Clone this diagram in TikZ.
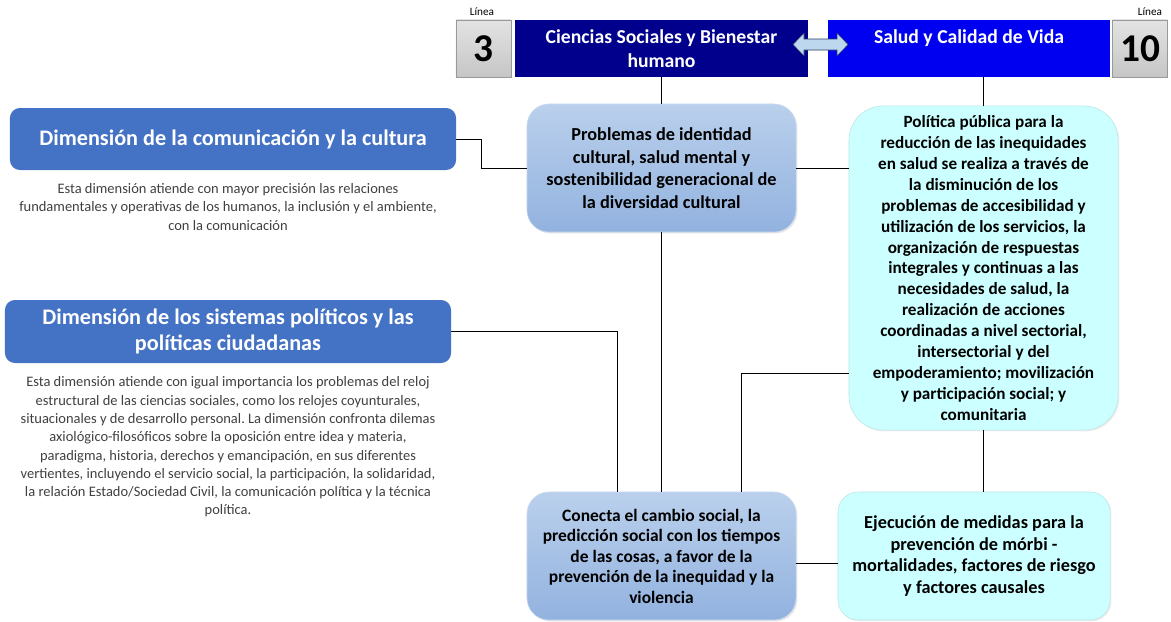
\documentclass[tikz,border=0pt]{standalone}
\usepackage{fontspec}
\setmainfont{Carlito}
\usepackage{tikz}
\usetikzlibrary{shadows, shapes.arrows, positioning, calc}
\frenchspacing

\definecolor{marino}{RGB}{0,0,140}
\definecolor{azulvivo}{RGB}{0,0,240}
\definecolor{azultitulo}{RGB}{68,114,196}
\definecolor{celesteA}{RGB}{186,208,236}
\definecolor{celesteB}{RGB}{146,178,223}
\definecolor{cian}{RGB}{204,255,255}
\definecolor{textogris}{RGB}{64,64,64}
\definecolor{flecha}{RGB}{189,215,238}
\definecolor{bordeflecha}{RGB}{40,60,100}

\begin{document}
\begin{tikzpicture}[x=0.025cm, y=-0.025cm,
  numero/.style={draw=gray!80, top color=gray!22, bottom color=gray!45, minimum width=1.375cm, minimum height=1.425cm, inner sep=0pt, font=\fontsize{28}{30}\selectfont\bfseries},
  linea/.style={font=\fontsize{8}{9}\selectfont, inner sep=0pt},
  cabecera/.style={minimum height=1.425cm, inner sep=0pt, text=white, align=center, font=\fontsize{14}{17}\selectfont\bfseries},
  dimension/.style={fill=azultitulo, rounded corners=0.25cm, minimum width=11.15cm, inner sep=0pt, text=white, align=center, font=\fontsize{15.8}{18.4}\selectfont\bfseries},
  nota/.style={text=textogris, align=center, inner sep=0pt, font=\fontsize{10.3}{13}\selectfont},
  tema/.style={draw=celesteA!80!white, top color=celesteA, bottom color=celesteB, rounded corners=0.55cm, minimum width=6.725cm, minimum height=3.2cm, align=center, inner sep=0pt, drop shadow={opacity=0.2, shadow xshift=1pt, shadow yshift=-1pt}},
  salud/.style={draw=cian!80!gray, fill=cian, align=center, inner sep=0pt, drop shadow={opacity=0.15, shadow xshift=1pt, shadow yshift=-1pt}}
]
\useasboundingbox (0,0) rectangle (1171,621);

\node[numero] (n3) at (483.5,48.5) {3};
\node[linea] (l3) at (482,12) {Línea};
\node[cabecera, fill=marino, minimum width=7.325cm] (ciencias) at (661.5,48.5) {Ciencias Sociales y Bienestar\\humano};
\node[cabecera, fill=azulvivo, minimum width=7.05cm] (saludvida) at (969,48.5) {Salud y Calidad de Vida\\\mbox{}};
\node[numero] (n10) at (1140,48.5) {10};
\node[linea] (l10) at (1150,12) {Línea};
\coordinate (enlace) at (820.5,44.5);
\draw[bordeflecha, fill=flecha, line join=round] ($(enlace)+(-27.5,0)$) -- ++(11,-11.5) -- ++(0,6) -- ++(33,0) -- ++(0,-6) -- ++(11,11.5) -- ++(-11,11.5) -- ++(0,-6) -- ++(-33,0) -- ++(0,6) -- cycle;

\node[dimension, minimum height=1.55cm] (dimcom) at (233,139) {Dimensión de la comunicación y la cultura};
\node[nota] (notacom) at (228,207) {Esta dimensión atiende con mayor precisión las relaciones\\fundamentales y operativas de los humanos, la inclusión y el ambiente,\\con la comunicación};
\node[dimension, minimum height=1.575cm] (dimpol) at (228,331.5) {Dimensión de los sistemas políticos y las\\políticas ciudadanas};
\node[nota] (notapol) at (228,447) {Esta dimensión atiende con igual importancia los problemas del reloj\\estructural de las ciencias sociales, como los relojes coyunturales,\\situacionales y de desarrollo personal. La dimensión confronta dilemas\\axiológico-filosóficos sobre la oposición entre idea y materia,\\paradigma, historia, derechos y emancipación, en sus diferentes\\vertientes, incluyendo el servicio social, la participación, la solidaridad,\\la relación Estado/Sociedad Civil, la comunicación política y la técnica\\política.};

\node[tema, font=\fontsize{13}{16}\selectfont\bfseries] (problemas) at (661.5,168) {Problemas de identidad\\cultural, salud mental y\\sostenibilidad generacional de\\la diversidad cultural};
\node[tema, font=\fontsize{12.4}{14.6}\selectfont\bfseries] (conecta) at (661.5,556) {Conecta el cambio social, la\\predicción social con los tiempos\\de las cosas, a favor de la\\prevención de la inequidad y la\\violencia};
\node[salud, rounded corners=0.85cm, minimum width=6.725cm, minimum height=8.1cm, font=\fontsize{12.2}{14.9}\selectfont\bfseries] (politica) at (983.5,268) {Política pública para la\\reducción de las inequidades\\en salud se realiza a través de\\la disminución de los\\problemas de accesibilidad y\\utilización de los servicios, la\\organización de respuestas\\integrales y continuas a las\\necesidades de salud, la\\realización de acciones\\coordinadas a nivel sectorial,\\intersectorial y del\\empoderamiento; movilización\\y participación social; y\\comunitaria};
\node[salud, rounded corners=0.5cm, minimum width=6.8cm, minimum height=3.2cm, font=\fontsize{13}{15.4}\selectfont\bfseries] (ejecucion) at (974,556) {Ejecución de medidas para la\\prevención de mórbi -\\mortalidades, factores de riesgo\\y factores causales};

\draw (ciencias.south -| problemas.north) -- (problemas.north);
\draw (politica.north |- saludvida.south) -- (politica.north);
\draw (dimcom.east) -- ++(25,0) |- (problemas.west);
\draw (problemas.east) -- (problemas.east -| politica.west);
\draw (problemas.south) -- (conecta.north);
\draw (dimpol.east) -| ($(conecta.north)+(-44,0)$);
\draw ($(politica.west)+(0,105)$) -| ($(conecta.north)+(80,0)$);
\draw (politica.south) -- (politica.south |- ejecucion.north);
\draw ($(conecta.east)+(0,7)$) -- ($(ejecucion.west)+(0,7)$);
\end{tikzpicture}
\end{document}
